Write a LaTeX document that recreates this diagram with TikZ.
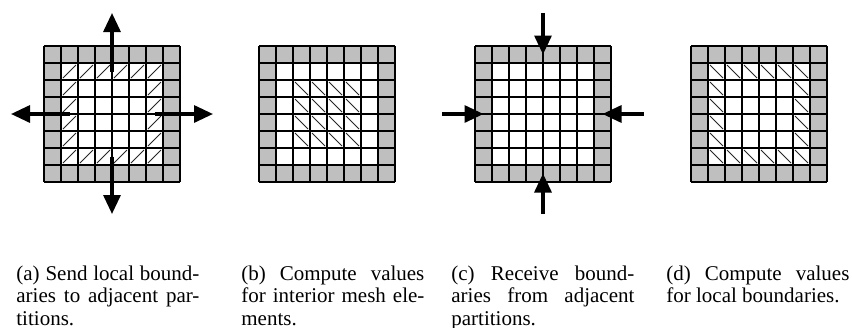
\documentclass[tikz,border=0pt]{standalone}
\usepackage{fontspec}
\setmainfont{Liberation Serif}
\usetikzlibrary{arrows.meta}

% caption column width
\newlength\capwidth
\setlength\capwidth{91.5pt}
% one justified caption line, set as its own box in the vertical list
\newcommand\capline[1]{\par\hbox to\capwidth{\spaceskip=0pt\xspaceskip=0pt #1}}
\newcommand\caplast[1]{\par\noindent#1}

\tikzset{
  bordergray/.style={fill=black!25},
  gridline/.style={line width=0.6pt},
  hatchline/.style={line width=0.45pt, black!85},
  flowarrow/.style={line width=1.6pt, -{Triangle[length=9.5pt,width=8.5pt]}},
  caption/.style={anchor=north west, inner sep=0pt, text width=\capwidth, align=justify,
    font=\fontsize{10.5pt}{11.1pt}\selectfont},
}

% 8x8 mesh: grey border ring, white interior
\newcommand\meshgrid{%
  \fill[bordergray] (0,0) rectangle (136,136);
  \fill[white] (17,17) rectangle (119,119);
}
\newcommand\meshlines{%
  \foreach \k in {0,...,8} {
    \draw[gridline] (17*\k,0) -- (17*\k,136);
    \draw[gridline] (0,17*\k) -- (136,17*\k);
  }
}
% hatch a cell with "/" or "\"
\newcommand\hatchfw[2]{\draw[hatchline] (17*#1+2,17*#2+15) -- (17*#1+15,17*#2+2);}
\newcommand\hatchbw[2]{\draw[hatchline] (17*#1+2,17*#2+2) -- (17*#1+15,17*#2+15);}
% the ring of local boundary cells
\newcommand\ringcells[1]{%
  \foreach \i in {1,...,6} { #1{\i}{1} #1{\i}{6} }
  \foreach \j in {2,...,5} { #1{1}{\j} #1{6}{\j} }
}

\begin{document}
\begin{tikzpicture}[x=0.5pt,y=-0.5pt]
\useasboundingbox (0,0) rectangle (852,327);

% (a) send local boundaries
\begin{scope}[shift={(44,46)}]
  \meshgrid
  \ringcells\hatchfw
  \meshlines
\end{scope}
\coordinate (a-n-from) at (112,71.5);   \coordinate (a-n-to) at (112,13);
\coordinate (a-s-from) at (112,156.5);  \coordinate (a-s-to) at (112,214);
\coordinate (a-w-from) at (69.5,114);   \coordinate (a-w-to) at (11,114);
\coordinate (a-e-from) at (154.5,114);  \coordinate (a-e-to) at (213,114);
\draw[flowarrow] (a-n-from) -- (a-n-to);
\draw[flowarrow] (a-s-from) -- (a-s-to);
\draw[flowarrow] (a-w-from) -- (a-w-to);
\draw[flowarrow] (a-e-from) -- (a-e-to);

% (b) compute interior values
\begin{scope}[shift={(259,46)}]
  \meshgrid
  \foreach \i in {2,...,5} { \foreach \j in {2,...,5} { \hatchbw{\i}{\j} } }
  \meshlines
\end{scope}

% (c) receive boundaries
\begin{scope}[shift={(475,46)}]
  \meshgrid
  \meshlines
\end{scope}
\coordinate (c-n-from) at (543,13);    \coordinate (c-n-to) at (543,54.5);
\coordinate (c-s-from) at (543,214);   \coordinate (c-s-to) at (543,173.5);
\coordinate (c-w-from) at (442,114);   \coordinate (c-w-to) at (483.5,114);
\coordinate (c-e-from) at (644,114);   \coordinate (c-e-to) at (602.5,114);
\draw[flowarrow] (c-n-from) -- (c-n-to);
\draw[flowarrow] (c-s-from) -- (c-s-to);
\draw[flowarrow] (c-w-from) -- (c-w-to);
\draw[flowarrow] (c-e-from) -- (c-e-to);

% (d) compute boundary values
\begin{scope}[shift={(691,46)}]
  \meshgrid
  \ringcells\hatchbw
  \meshlines
\end{scope}

% captions
\node[caption] (cap-a) at (16,258) {\capline{(a) Send local bound-}\capline{aries to adjacent par-}\caplast{titions.}};
\node[caption] (cap-b) at (241,258) {\capline{(b) Compute values}\capline{for interior mesh ele-}\caplast{ments.}};
\node[caption] (cap-c) at (451,258) {\capline{(c) Receive bound-}\capline{aries from adjacent}\caplast{partitions.}};
\node[caption] (cap-d) at (666,258) {\capline{(d) Compute values}\caplast{for local boundaries.}};
\end{tikzpicture}
\end{document}
